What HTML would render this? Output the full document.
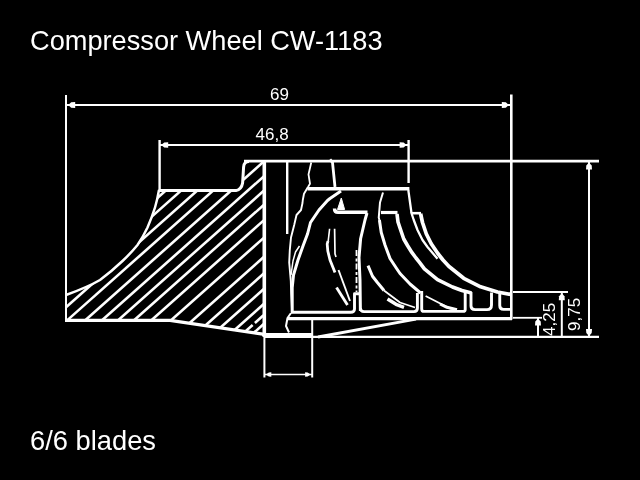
<!DOCTYPE html>
<html><head><meta charset="utf-8"><title>Compressor Wheel CW-1183</title>
<style>
html,body{margin:0;padding:0;background:#000;}
body{filter:grayscale(1);width:640px;height:480px;overflow:hidden;position:relative;font-family:"Liberation Sans",sans-serif;color:#fff;}
.t{position:absolute;white-space:nowrap;line-height:1;}
svg{position:absolute;left:0;top:0;}
svg text{font-family:"Liberation Sans",sans-serif;fill:#fff;}
</style></head><body>
<div class="t" id="title" style="left:30px;top:27px;font-size:27.2px;">Compressor Wheel CW-1183</div>
<div class="t" id="blades" style="left:30px;top:426.5px;font-size:27.3px;">6/6 blades</div>
<svg width="640" height="480" viewBox="0 0 640 480" fill="none" stroke="#fff" stroke-width="2" stroke-linecap="butt" stroke-linejoin="round">
<defs>
<clipPath id="hub"><path d="M159,190 L237,190 Q242,189 243,182 L244,166 Q244.5,161.5 249,161.5 L264,161.5 L264,334 L170,320.5 L66,320.5 L66,295 Q88,287 100,280 Q112,271 122.5,261 Q131,253 137.5,245 Q143,237 147.5,227.5 Q152,217 155,207.5 Q157.5,199 159,190 Z"/></clipPath>
</defs>
<!-- dimension texts -->
<g stroke="none">
<text x="270" y="100" font-size="17">69</text>
<text x="255.5" y="140" font-size="17">46,8</text>
<text transform="translate(555.2,336) rotate(-90)" font-size="17">4,25</text>
<text transform="translate(579.5,331) rotate(-90)" font-size="17">9,75</text>
</g>
<!-- dimension lines -->
<g id="dims">
<path d="M66,95 V321"/>
<path d="M66,105 H511"/>
<path d="M511.3,94.5 V319.5" stroke-width="2.6"/>
<path d="M159.6,140 V190" stroke-width="2.4"/>
<path d="M159.5,145 H408.5"/>
<path d="M408.6,140 V183" stroke-width="2.4"/>
<path d="M244,161.2 H599" stroke-width="2.8"/>
<path d="M589,161 V337"/>
<path d="M264,336.9 H599" stroke-width="2.2"/>
<path d="M513,292 H568"/>
<path d="M561.8,292 V337"/>
<path d="M513,317.8 H542" stroke-width="1.8"/>
<path d="M538,318 V337"/>
<path d="M264.4,334 V377.5"/>
<path d="M312.2,320 V377.5"/>
<path d="M264,374.5 H312" stroke-width="1.6"/>
</g>
<!-- arrow heads -->
<g id="arrows" fill="#fff" stroke="none">
<path d="M68.2,105.0 L71.2,102.3 L75.2,102.0 L75.2,108.0 L71.2,107.7 Z"/>
<path d="M508.8,105.0 L505.8,107.7 L501.8,108.0 L501.8,102.0 L505.8,102.3 Z"/>
<path d="M161.2,145.0 L164.2,142.5 L168.2,142.2 L168.2,147.8 L164.2,147.5 Z"/>
<path d="M406.6,145.0 L403.6,147.5 L399.6,147.8 L399.6,142.2 L403.6,142.5 Z"/>
<path d="M589.0,162.6 L591.7,165.6 L592.0,169.6 L586.0,169.6 L586.3,165.6 Z"/>
<path d="M589.0,336.0 L586.3,333.0 L586.0,329.0 L592.0,329.0 L591.7,333.0 Z"/>
<path d="M561.8,293.2 L564.5,296.2 L564.8,300.2 L558.8,300.2 L559.1,296.2 Z"/>
<path d="M538.0,318.4 L540.7,321.4 L541.0,325.4 L535.0,325.4 L535.3,321.4 Z"/>
<path d="M265.8,374.5 L268.8,372.4 L271.3,372.2 L271.3,376.8 L268.8,376.6 Z"/>
<path d="M310.6,374.5 L307.6,376.6 L305.1,376.8 L305.1,372.2 L307.6,372.4 Z"/>
</g>
<!-- hub outline -->
<g id="hub-outline" stroke-width="2.6">
<path d="M158.6,190.6 L236,190.6 Q241.5,189.5 242.6,183 L243.6,167 Q244,161.5 249,161.5" stroke-width="3"/>
<path d="M159,190 Q157.5,199 155,207.5 Q152,217 147.5,227.5 Q143,237 137.5,245 Q131,253 122.5,261 Q112,271 100,280 Q88,287 66,295" stroke-width="2.5"/>
<path d="M65,320.4 L170,320.4 L263,334.2" stroke-width="3.2"/>
<path d="M264.3,160 V337" stroke-width="3.6"/>
<path d="M262,334.4 H313" stroke-width="3"/>
</g>
<!-- blades -->
<g id="blades-g" stroke-width="2.6">
<path d="M287.2,161 V234" stroke-width="2.4"/>
<path d="M311.25,162.5 L308.5,174.4 L310,183.75 L308,187" stroke-width="1.8"/>
<path d="M330,159.4 L332.5,162.5 L335,187" stroke-width="2.8"/>
<path d="M307.5,188.8 H409.4" stroke-width="3.6"/>
<path d="M308,187 L304,193.75 L302.8,200 L302.5,203 L301,210 L296.5,215 L294.2,225 L291,237.5 L289.8,250 L289.2,262.5 L290.8,281 L291.2,294 L292,310" stroke-width="1.9"/>
<path d="M341,191 L330,198.5 L327.5,200.5 L319,210 L310.5,222.5 L307.6,233.75 L303,246 L298,260 L293.5,275 L292.2,287.5 L292.2,312" stroke-width="3"/>
<path d="M299.5,246 L295.5,252 L293,261 L291,275" stroke-width="1.5"/>
<path d="M341.3,198 L344.6,209.5 L337.5,209.5 Z" fill="#fff" stroke-width="1"/>
<path d="M334.5,208.5 Q334.5,212.3 338,212.3 H367.5" stroke-width="3.4"/>
<path d="M367,213 L365,220 L360.6,238.75 L359,257.5 L360,280 L360.4,311" stroke-width="3"/>
<path d="M329.6,228.75 L328.2,241" stroke-width="1.6"/>
<path d="M328,241 L327.2,244 L327.8,251 L330,260 L335,272.5" stroke-width="2.8"/>
<path d="M334.6,228.75 L335,253.75 L336,257" stroke-width="1.7"/>
<path d="M338.5,270 L350,301" stroke-width="1.9"/>
<path d="M336.5,287.5 L347.5,305" stroke-width="2.8"/>
<path d="M356.5,250 V292" stroke-width="1.8" stroke-dasharray="6 2.5 3 2"/>
<path d="M291,312.3 H350.5 Q354.5,312.3 354.5,309 V293.7 H360.4" stroke-width="2.9"/>
<path d="M360.4,308 Q360.6,311.6 364,311.6 H414 Q417.4,311.6 417.4,308 V293" stroke-width="2.9"/>
<path d="M421.7,291 V308.9 Q421.7,311.4 424,311.4 H463 Q465.2,311.4 465.2,309.4 V291" stroke-width="2.9"/>
<path d="M471,292 V306 Q471,309.6 475,309.6 H487 Q491.5,309.6 491.5,305 V292.5" stroke-width="2.9"/>
<path d="M499.75,292 V305.5 Q499.75,309.4 503.5,309.4 H510" stroke-width="2.9"/>
<path d="M287.5,318.6 H512" stroke-width="3.2"/>
<path d="M291,313 L287.5,318 L286,326 L289,332.5" stroke-width="2"/>
<path d="M318,337 L416,319.2" stroke-width="2.8"/>
<path d="M383,192.5 L380,202.5 L378.75,217.5 L379.4,220" stroke-width="2"/>
<path d="M379.4,220 L381.25,232.5 L385,245 L390,258.5 L396.25,268 L400,273.5 L410,284 L420.6,293" stroke-width="3"/>
<path d="M381,212.5 H397.5" stroke-width="3.2"/>
<path d="M397,214 L398,222 L400,228 L403.75,239 L407.5,245.5 L412,252.7 L416,258 L419.5,262.3 L424.4,268.8 L437.5,279.6 L452.5,287 L462,290.5 L471.5,293" stroke-width="3.6"/>
<path d="M408.3,190 L411.25,211.25 L411.25,212.5 L413.75,220 L417.5,230 L422.5,240 L427.5,247 L437.5,258.75" stroke-width="2.3"/>
<path d="M411,213.2 H421" stroke-width="2.6"/>
<path d="M420.6,213.75 L422.5,222.5 L426.25,233.75 L431.25,243.75 L437.5,253 L443,260 L448.75,266.25 L463.75,278.3 L480.6,286.8 L497.5,292 L510.6,294.4" stroke-width="3.7"/>
<path d="M425.6,296 L451,309" stroke-width="1.8"/>
<path d="M440,304 L447,307.3 L457,309.8" stroke-width="3"/>
<path d="M368,265.6 L372.5,276.25 L377,282 L384,290.5" stroke-width="3"/>
<path d="M384,290.5 L390,295 L400,302.5 L415,307.5" stroke-width="1.8"/>
<path d="M387.5,299 L396,304.3 L404,307.3" stroke-width="3.4"/>
</g>
<!-- hatch -->
<g id="hatch" clip-path="url(#hub)" stroke-width="2.6">
<path d="M270.0,97.8 L60.0,284.5"/>
<path d="M270.0,111.5 L60.0,298.2"/>
<path d="M270.0,125.9 L60.0,312.6"/>
<path d="M270.0,140.0 L60.0,326.7"/>
<path d="M270.0,156.0 L60.0,342.7"/>
<path d="M270.0,170.9 L60.0,357.6"/>
<path d="M270.0,185.2 L60.0,371.9"/>
<path d="M270.0,199.4 L60.0,386.1"/>
<path d="M270.0,214.8 L60.0,401.5"/>
<path d="M270.0,232.3 L60.0,419.0"/>
<path d="M270.0,251.5 L60.0,438.2"/>
<path d="M270.0,268.0 L60.0,454.7"/>
<path d="M270.0,283.5 L60.0,470.2"/>
<path d="M270.0,298.5 L60.0,485.2"/>
<path d="M263.5,315.3 L60.0,496.3" stroke-dasharray="11.5 3 60"/>
<path d="M270.0,318.4 L60.0,505.1"/>
</g>
</svg>
</body></html>
